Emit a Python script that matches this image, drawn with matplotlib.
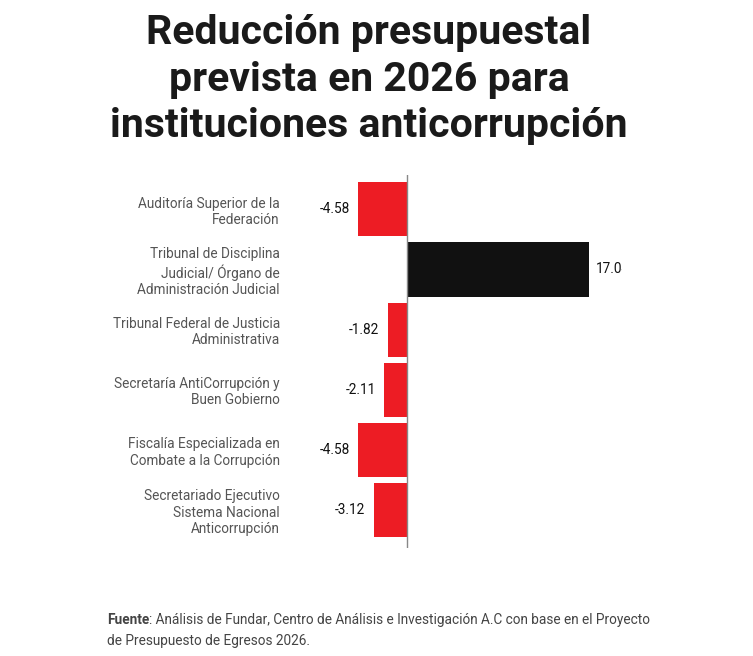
import matplotlib
matplotlib.use("Agg")
import matplotlib.pyplot as plt
from matplotlib.transforms import IdentityTransform

plt.rcParams['font.family'] = ['Roboto', 'DejaVu Sans']

# datos
instituciones = [
    "Auditoría Superior de la\nFederación",
    "Tribunal de Disciplina\nJudicial/ Órgano de\nAdministración Judicial",
    "Tribunal Federal de Justicia\nAdministrativa",
    "Secretaría AntiCorrupción y\nBuen Gobierno",
    "Fiscalía Especializada en\nCombate a la Corrupción",
    "Secretariado Ejecutivo\nSistema Nacional\nAnticorrupción",
]
variacion = [-4.58, 17.04, -1.82, -2.11, -4.58, -3.12]

rojo = "#ED1C24"
negro = "#111111"

fig = plt.figure(figsize=(7.53, 6.56), dpi=100)
ax = fig.add_axes([300 / 753, 1 - 548 / 656, 322 / 753, 373 / 656])

pos = list(range(len(variacion)))
colores = [rojo if v < 0 else negro for v in variacion]
ax.barh(pos, variacion, height=0.9, color=colores)

ax.set_xlim(-10.0, 20.09)
ax.set_ylim(5.63, -0.57)
ax.axvline(0, color="#888888", lw=1)

for s in ax.spines.values():
    s.set_visible(False)
ax.set_xticks([])
ax.set_yticks(pos)
ax.set_yticklabels(instituciones, fontsize=9.8, color="#555555", linespacing=1.2)
ax.tick_params(axis="y", length=0, pad=14.5)

for p, v in zip(pos, variacion):
    if v < 0:
        ax.annotate(f"{v:.2f}", (v, p), xytext=(-6, 0), textcoords="offset points",
                    ha="right", va="center", fontsize=9.8, color="#111111")
    else:
        t = ax.annotate(f"{v:.2f}", (v, p), xytext=(4.5, 0), textcoords="offset points",
                        ha="left", va="center", fontsize=9.8, color="#111111")
        t.set_clip_box(ax.bbox)
        t.set_clip_on(True)

fig.text(369 / 753, 1 - 14 / 656,
         "Reducción presupuestal\nprevista en 2026 para\ninstituciones anticorrupción",
         ha="center", va="top", fontsize=29.5, fontweight="bold", color="#1a1a1a",
         linespacing=1.29)

f1 = fig.text(107 / 753, 1 - 627 / 656, "Fuente", fontsize=9.8, fontweight="bold",
              color="#444444", va="bottom")
resto = fig.text(0, 0, ": Análisis de Fundar, Centro de Análisis e Investigación A.C con base en el Proyecto",
                 fontsize=9.8, color="#444444", va="bottom")
fig.text(107 / 753, 1 - 648 / 656, "de Presupuesto de Egresos 2026.", fontsize=9.8,
         color="#444444", va="bottom")

fig.canvas.draw()
bb = f1.get_window_extent()
resto.set_transform(IdentityTransform())
resto.set_position((bb.x1, bb.y0))

fig.savefig("out.png", dpi=100)
